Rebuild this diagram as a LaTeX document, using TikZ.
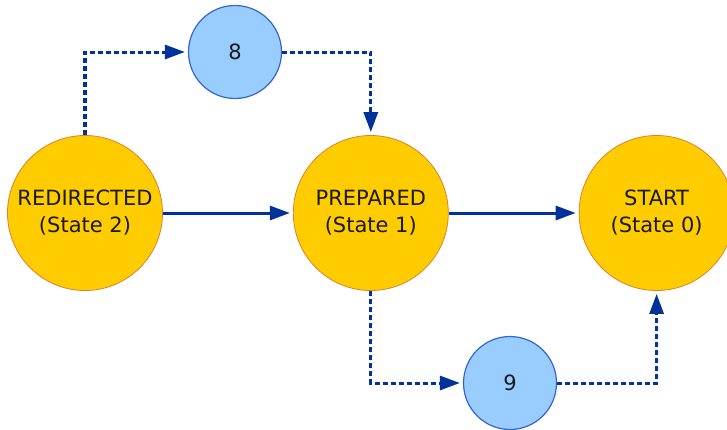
\documentclass[tikz,border=0pt]{standalone}
\usepackage{fontspec}
\setmainfont{DejaVu Sans}
\usepackage{tikz}
\usetikzlibrary{arrows.meta, positioning}

\definecolor{stategold}{HTML}{FFCC00}
\definecolor{stateedge}{HTML}{D9822B}
\definecolor{stepblue}{HTML}{99CCFF}
\definecolor{stepedge}{HTML}{3366CC}
\definecolor{flowblue}{HTML}{003399}
\definecolor{labelgray}{HTML}{1A1A1A}

\begin{document}
\begin{tikzpicture}[
    x=1pt, y=1pt,
    node distance=130pt,
    state/.style={circle, draw=stateedge, line width=0.8pt, fill=stategold, minimum size=155pt, inner sep=0pt, align=center, text=labelgray, font=\fontsize{21}{27}\selectfont},
    substate/.style={circle, draw=stepedge, line width=1.2pt, fill=stepblue, minimum size=93pt, inner sep=0pt, text=labelgray, font=\fontsize{21}{27}\selectfont},
    arrow/.style={-{Triangle[length=20pt, width=14pt]}, line width=3pt, draw=flowblue, shorten >=3pt},
    dasharrow/.style={arrow, dash pattern=on 5pt off 3pt},
]
    \useasboundingbox (-85,213) rectangle (642,-216);

    % States
    \node[state] (redirected) at (0,0) {REDIRECTED\\(State 2)};
    \node[state, right=of redirected] (prepared) {PREPARED\\(State 1)};
    \node[state, right=of prepared] (start) {START\\(State 0)};

    % Intermediate steps
    \node[substate] (eight) at (150,161) {8};
    \node[substate] (nine) at (425,-170) {9};

    % Arrows
    \draw[arrow] (redirected) -- (prepared);
    \draw[arrow] (prepared) -- (start);
    \draw[dasharrow] (redirected.north) |- (eight.west);
    \draw[dasharrow] (eight.east) -| (prepared.north);
    \draw[dasharrow] (prepared.south) |- (nine.west);
    \draw[dasharrow] (nine.east) -| (start.south);
\end{tikzpicture}
\end{document}
